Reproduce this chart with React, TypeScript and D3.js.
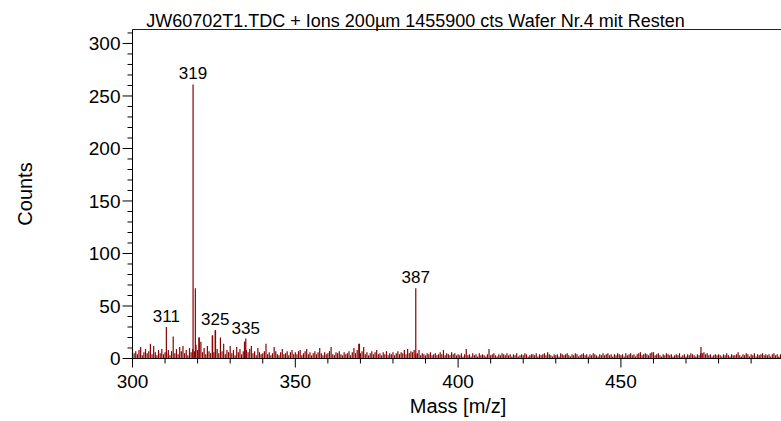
import React from "react";
import * as d3 from "d3";

// ---- data ----
const titleText = "JW60702T1.TDC + Ions 200µm 1455900 cts Wafer Nr.4 mit Resten";
const xLabel = "Mass [m/z]";
const yLabel = "Counts";

const xTicksMajor = [300, 350, 400, 450];
const yTicksMajor = [0, 50, 100, 150, 200, 250, 300];

// noise counts every 0.5 m/z (base-36 digits), 50 m/z per string
const noiseStart = [300, 350, 400, 450];
const noiseStep = 0.5;
const noise300 =
  "95748b3695" + "7e4c638594" + "65837l594b" + "7c583a697d" + "8kg6a4c75m" +
  "6r95k7e486" + "c583b6947g" + "869c573a64" + "57e4635b74" + "3694573684";
const noise350 =
  "6478357946" + "35746a5364" + "57b4365743" + "645736a58e" + "57b4635746" +
  "8453647354" + "6357465849" + "5768458354" + "3546345346" + "4835436453";
const noise400 =
  "4352493425" + "3425343249" + "3453243543" + "5342435234" + "3542344352" +
  "4345364324" + "3425434532" + "4354234534" + "2435432435" + "3453424354";
const noise450 =
  "3425345342" + "4563454356" + "6345324354" + "3423435234" + "2435432435" +
  "5645342343" + "4324353243" + "3463243542" + "4352434534" + "3424534243";
const noiseStrings = [noise300, noise350, noise400, noise450];

// distinct peaks
const peakMass = [310.4, 318.6, 319.3, 320.4, 324.6, 325.4, 334.4, 334.8, 369.7, 387.0, 474.6];
const peakCounts = [30, 261, 67, 20, 22, 27, 16, 19, 14, 67, 11];

// labelled peaks
const labelMass = [310.4, 318.6, 325.4, 334.8, 387.0];
const labelCounts = [30, 261, 27, 19, 67];
const labelText = ["311", "319", "325", "335", "387"];

type Pt = { m: number; c: number };
const points: Pt[] = [];
noiseStrings.forEach((s, si) => {
  for (let i = 0; i < s.length; i++) {
    points.push({ m: noiseStart[si] + i * noiseStep, c: parseInt(s[i], 36) });
  }
});
peakMass.forEach((m, i) => points.push({ m, c: peakCounts[i] }));

const FONT = "Arial, 'Liberation Sans', sans-serif";
const BAR = "#8b0000";

export default function App() {
  const W = 781;
  const H = 421;
  const left = 132.5;
  const right = 783.7;
  const top = 29.5;
  const bottom = 358.5;

  const x = d3.scaleLinear().domain([300, 500]).range([left, right]);
  const y = d3.scaleLinear().domain([0, 313.3]).range([bottom, top]);

  const xMinor = d3.range(300, 501, 10).filter((v) => v % 50 !== 0);
  const yMinor = d3.range(0, 311, 10).filter((v) => v % 50 !== 0);

  return (
    <svg
      width={W}
      height={H}
      style={{ position: "absolute", left: 0, top: 0, background: "#fff" }}
      fontFamily={FONT}
    >
      {/* bars */}
      <g>
        {points.map((p, i) => (
          <line
            key={i}
            x1={x(p.m)}
            x2={x(p.m)}
            y1={y(0)}
            y2={y(p.c)}
            stroke={BAR}
            strokeWidth={1.2}
          />
        ))}
      </g>

      {/* frame */}
      <line x1={left} x2={right} y1={top} y2={top} stroke="#222" strokeWidth={1.2} />
      <line x1={left} x2={left} y1={top} y2={bottom} stroke="#000" strokeWidth={1} />
      <line x1={left} x2={right} y1={bottom} y2={bottom} stroke="#000" strokeWidth={1.2} />

      {/* y ticks */}
      {yTicksMajor.map((v) => (
        <g key={"ym" + v}>
          <line x1={left - 10} x2={left} y1={y(v)} y2={y(v)} stroke="#000" />
          <text
            x={left - 12}
            y={y(v)}
            dy="0.36em"
            textAnchor="end"
            fontSize={19}
            fill="#000"
          >
            {v}
          </text>
        </g>
      ))}
      {yMinor.map((v) => (
        <line key={"yn" + v} x1={left - 5} x2={left} y1={y(v)} y2={y(v)} stroke="#000" />
      ))}

      {/* x ticks */}
      {xTicksMajor.map((v) => (
        <g key={"xm" + v}>
          <line x1={x(v)} x2={x(v)} y1={bottom} y2={bottom + 9} stroke="#000" />
          <text x={x(v)} y={388} textAnchor="middle" fontSize={19} fill="#000">
            {v}
          </text>
        </g>
      ))}
      {xMinor.map((v) => (
        <line key={"xn" + v} x1={x(v)} x2={x(v)} y1={bottom} y2={bottom + 5} stroke="#000" />
      ))}

      {/* peak labels */}
      {labelText.map((t, i) => (
        <text
          key={"pl" + i}
          x={x(labelMass[i])}
          y={y(labelCounts[i]) - 5}
          textAnchor="middle"
          fontSize={17}
          fill="#000"
        >
          {t}
        </text>
      ))}

      {/* titles */}
      <text x={415.5} y={26.5} textAnchor="middle" fontSize={18} fill="#000">
        {titleText}
      </text>
      <text x={(left + right) / 2} y={413} textAnchor="middle" fontSize={20} fill="#000">
        {xLabel}
      </text>
      <text
        transform={`translate(25, ${(top + bottom) / 2}) rotate(-90)`}
        textAnchor="middle"
        dy="0.36em"
        fontSize={20}
        fill="#000"
      >
        {yLabel}
      </text>
    </svg>
  );
}
